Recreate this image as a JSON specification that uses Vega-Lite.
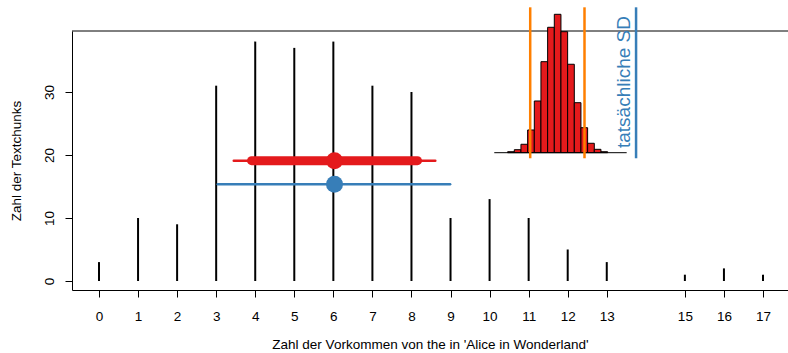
{
  "$schema": "https://vega.github.io/schema/vega-lite/v6.json",
  "autosize": "none",
  "width": 716,
  "height": 259,
  "padding": {"left": 72, "top": 31, "right": 0, "bottom": 63},
  "background": "white",
  "config": {
    "view": {"stroke": null},
    "font": "Liberation Sans",
    "axis": {"labelFont": "Liberation Sans", "titleFont": "Liberation Sans", "labelFontSize": 13.5, "titleFontSize": 13.5, "titleFontWeight": "normal", "labelColor": "black", "titleColor": "black", "domainColor": "black", "tickColor": "black", "grid": false, "tickSize": 7}
  },
  "datasets": {
    "counts": [
      {"vorkommen": 0, "chunks": 3}, {"vorkommen": 1, "chunks": 10}, {"vorkommen": 2, "chunks": 9},
      {"vorkommen": 3, "chunks": 31}, {"vorkommen": 4, "chunks": 38}, {"vorkommen": 5, "chunks": 37},
      {"vorkommen": 6, "chunks": 38}, {"vorkommen": 7, "chunks": 31}, {"vorkommen": 8, "chunks": 30},
      {"vorkommen": 9, "chunks": 10}, {"vorkommen": 10, "chunks": 13}, {"vorkommen": 11, "chunks": 10},
      {"vorkommen": 12, "chunks": 5}, {"vorkommen": 13, "chunks": 3}, {"vorkommen": 15, "chunks": 1},
      {"vorkommen": 16, "chunks": 2}, {"vorkommen": 17, "chunks": 1}
    ],
    "sim_hist": [
      {"lo": 10.462, "hi": 10.633, "top": 20.52},
      {"lo": 10.633, "hi": 10.803, "top": 20.84},
      {"lo": 10.803, "hi": 10.974, "top": 21.70},
      {"lo": 10.974, "hi": 11.145, "top": 23.97},
      {"lo": 11.145, "hi": 11.315, "top": 28.57},
      {"lo": 11.315, "hi": 11.486, "top": 34.81},
      {"lo": 11.486, "hi": 11.657, "top": 40.27},
      {"lo": 11.657, "hi": 11.827, "top": 42.33},
      {"lo": 11.827, "hi": 11.998, "top": 39.57},
      {"lo": 11.998, "hi": 12.169, "top": 34.40},
      {"lo": 12.169, "hi": 12.339, "top": 28.30},
      {"lo": 12.339, "hi": 12.510, "top": 24.33},
      {"lo": 12.510, "hi": 12.681, "top": 21.86},
      {"lo": 12.681, "hi": 12.851, "top": 20.90},
      {"lo": 12.851, "hi": 13.022, "top": 20.52}
    ]
  },
  "layer": [
    {
      "data": {"name": "counts"},
      "mark": {"type": "rule", "color": "black", "strokeWidth": 2},
      "encoding": {
        "x": {"field": "vorkommen", "type": "quantitative",
              "scale": {"domain": [-0.691, 17.64], "nice": false, "zero": false},
              "axis": {"values": [0,1,2,3,4,5,6,7,8,9,10,11,12,13,15,16,17], "title": "Zahl der Vorkommen von the in 'Alice in Wonderland'", "labelPadding": 12, "titlePadding": 15, "labelFlush": false, "labelOverlap": false}},
        "y": {"field": "chunks", "type": "quantitative",
              "scale": {"domain": [-1.43, 39.68], "nice": false, "zero": false},
              "axis": {"values": [0, 10, 20, 30], "title": "Zahl der Textchunks", "labelAngle": 270, "labelAlign": "center", "labelBaseline": "alphabetic", "labelPadding": 11.7, "titlePadding": 22, "titleBaseline": "alphabetic", "labelFlush": false}},
        "y2": {"datum": 0}
      }
    },
    {
      "data": {"values": [{"lo": -0.691, "hi": 17.64, "y": 39.68}]},
      "mark": {"type": "rule", "color": "black", "strokeWidth": 1},
      "encoding": {"x": {"field": "lo", "type": "quantitative"}, "x2": {"field": "hi"}, "y": {"field": "y", "type": "quantitative"}}
    },
    {
      "data": {"values": [{"lo": 3.04, "hi": 8.99, "y": 15.35}]},
      "mark": {"type": "rule", "color": "#377EB8", "strokeWidth": 2.5, "strokeCap": "round"},
      "encoding": {"x": {"field": "lo", "type": "quantitative"}, "x2": {"field": "hi"}, "y": {"field": "y", "type": "quantitative"}}
    },
    {
      "data": {"values": [{"lo": 3.45, "hi": 8.61, "y": 19.1}]},
      "mark": {"type": "rule", "color": "#E41A1C", "strokeWidth": 2.5, "strokeCap": "round"},
      "encoding": {"x": {"field": "lo", "type": "quantitative"}, "x2": {"field": "hi"}, "y": {"field": "y", "type": "quantitative"}}
    },
    {
      "data": {"values": [{"lo": 3.905, "hi": 8.155, "y": 19.1}]},
      "mark": {"type": "rule", "color": "#E41A1C", "strokeWidth": 9, "strokeCap": "round"},
      "encoding": {"x": {"field": "lo", "type": "quantitative"}, "x2": {"field": "hi"}, "y": {"field": "y", "type": "quantitative"}}
    },
    {
      "data": {"values": [{"x": 6.03, "y": 19.1}]},
      "mark": {"type": "point", "filled": true, "opacity": 1, "color": "#E41A1C", "size": 290, "shape": "circle"},
      "encoding": {"x": {"field": "x", "type": "quantitative"}, "y": {"field": "y", "type": "quantitative"}}
    },
    {
      "data": {"values": [{"x": 6.03, "y": 15.35}]},
      "mark": {"type": "point", "filled": true, "opacity": 1, "color": "#377EB8", "size": 290, "shape": "circle"},
      "encoding": {"x": {"field": "x", "type": "quantitative"}, "y": {"field": "y", "type": "quantitative"}}
    },
    {
      "data": {"name": "sim_hist"},
      "mark": {"type": "rect", "fill": "#E41A1C", "stroke": "black", "strokeWidth": 1},
      "encoding": {"x": {"field": "lo", "type": "quantitative"}, "x2": {"field": "hi"}, "y": {"field": "top", "type": "quantitative"}, "y2": {"datum": 20.365}}
    },
    {
      "data": {"values": [{"lo": 10.12, "hi": 13.51, "y": 20.365}]},
      "mark": {"type": "rule", "color": "black", "strokeWidth": 1},
      "encoding": {"x": {"field": "lo", "type": "quantitative"}, "x2": {"field": "hi"}, "y": {"field": "y", "type": "quantitative"}}
    },
    {
      "data": {"values": [{"x": 11.04, "y0": 19.48, "y1": 43.44}, {"x": 12.43, "y0": 19.48, "y1": 43.44}]},
      "mark": {"type": "rule", "color": "#FF7F00", "strokeWidth": 2.5},
      "encoding": {"x": {"field": "x", "type": "quantitative"}, "y": {"field": "y0", "type": "quantitative"}, "y2": {"field": "y1"}}
    },
    {
      "data": {"values": [{"x": 13.75, "y0": 19.48, "y1": 43.44}]},
      "mark": {"type": "rule", "color": "#377EB8", "strokeWidth": 2.5},
      "encoding": {"x": {"field": "x", "type": "quantitative"}, "y": {"field": "y0", "type": "quantitative"}, "y2": {"field": "y1"}}
    },
    {
      "data": {"values": [{"x": 13.59, "y": 21.1, "label": "tatsächliche SD"}]},
      "mark": {"type": "text", "angle": 270, "align": "left", "baseline": "alphabetic", "fontSize": 19, "font": "Liberation Sans", "color": "#377EB8"},
      "encoding": {"x": {"field": "x", "type": "quantitative"}, "y": {"field": "y", "type": "quantitative"}, "text": {"field": "label"}}
    }
  ]
}
